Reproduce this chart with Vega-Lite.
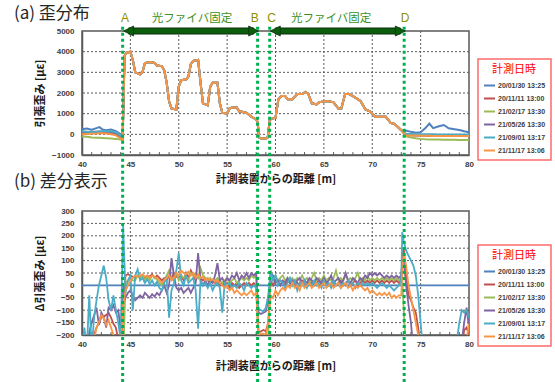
{
"$schema": "https://vega.github.io/schema/vega-lite/v6.json",
"background": "white",
"padding": {"left": 13, "top": 4, "right": 0, "bottom": 0},
"bounds": "flush",
"spacing": 56,
"resolve": {"legend": {"color": "independent"}},
"datasets": {
"names": [
{"k":"b","series":"20/01/30 13:25"},{"k":"r","series":"20/11/11 13:00"},{"k":"g","series":"21/02/17 13:30"},
{"k":"p","series":"21/05/26 13:30"},{"k":"a","series":"21/09/01 13:17"},{"k":"o","series":"21/11/17 13:06"}],
"gx": [{"g":45},{"g":50},{"g":55},{"g":60},{"g":65},{"g":70},{"g":75}],
"mt": [{"m":41},{"m":42},{"m":43},{"m":44},{"m":46},{"m":47},{"m":48},{"m":49},{"m":51},{"m":52},{"m":53},{"m":54},{"m":56},{"m":57},{"m":58},{"m":59},{"m":61},{"m":62},{"m":63},{"m":64},{"m":66},{"m":67},{"m":68},{"m":69},{"m":71},{"m":72},{"m":73},{"m":74},{"m":76},{"m":77},{"m":78},{"m":79}],
"gyt": [{"g":0},{"g":1000},{"g":2000},{"g":3000},{"g":4000}],
"gyb": [{"g":-150},{"g":-100},{"g":-50},{"g":0},{"g":50},{"g":100},{"g":150},{"g":200},{"g":250}],
"marks": [{"x":44.2},{"x":58.15},{"x":59.4},{"x":73.3}],
"labels": [{"x":44.45,"t":"A"},{"x":57.85,"t":"B"},{"x":59.6,"t":"C"},{"x":73.4,"t":"D"}],
"texts": [{"x":51.37,"t":"光ファイバ固定"},{"x":65.75,"t":"光ファイバ固定"}],
"shafts": [{"x1":44.8,"x2":57.76},{"x1":59.96,"x2":72.92}],
"heads": [{"x":44.3,"d":"L"},{"x":58.26,"d":"R"},{"x":59.46,"d":"L"},{"x":73.42,"d":"R"}],
"top": [
{"x":40,"b":250,"r":50,"g":-100,"p":100,"a":150,"o":0},
{"x":40.5,"b":280,"r":60,"g":-120,"p":110,"a":130,"o":20},
{"x":41,"b":220,"r":80,"g":-150,"p":120,"a":100,"o":30},
{"x":41.5,"b":300,"r":90,"g":-160,"p":130,"a":130,"o":40},
{"x":41.8,"b":350,"r":100,"g":-170,"p":130,"a":150,"o":50},
{"x":42.1,"b":240,"r":100,"g":-180,"p":130,"a":150,"o":50},
{"x":42.5,"b":200,"r":90,"g":-190,"p":120,"a":160,"o":40},
{"x":43,"b":230,"r":50,"g":-200,"p":100,"a":150,"o":0},
{"x":43.5,"b":150,"r":0,"g":-220,"p":60,"a":100,"o":-50},
{"x":44,"b":0,"r":-150,"g":-250,"p":-100,"a":-50,"o":-200},
{"x":44.2,"b":-150,"r":-250,"g":-300,"p":-200,"a":-200,"o":-280},
{"x":44.4,"b":3800,"r":3800,"g":3800,"p":3800,"a":3800,"o":3800},
{"x":44.6,"b":3950,"r":3950,"g":3950,"p":3950,"a":3950,"o":3950},
{"x":45,"b":4000,"r":4000,"g":4000,"p":4000,"a":4000,"o":4000},
{"x":45.25,"b":3600,"r":3600,"g":3600,"p":3600,"a":3600,"o":3600},
{"x":45.5,"b":3000,"r":3000,"g":3000,"p":3000,"a":3000,"o":3000},
{"x":46,"b":2900,"r":2900,"g":2900,"p":2900,"a":2900,"o":2900},
{"x":46.25,"b":3000,"r":3000,"g":3000,"p":3000,"a":3000,"o":3000},
{"x":46.5,"b":3450,"r":3450,"g":3450,"p":3450,"a":3450,"o":3450},
{"x":47,"b":3500,"r":3500,"g":3500,"p":3500,"a":3500,"o":3500},
{"x":47.5,"b":3450,"r":3450,"g":3450,"p":3450,"a":3450,"o":3450},
{"x":47.75,"b":3330,"r":3330,"g":3330,"p":3330,"a":3330,"o":3330},
{"x":48.25,"b":3300,"r":3300,"g":3300,"p":3300,"a":3300,"o":3300},
{"x":48.5,"b":3100,"r":3100,"g":3100,"p":3100,"a":3100,"o":3100},
{"x":48.75,"b":2500,"r":2500,"g":2500,"p":2500,"a":2500,"o":2500},
{"x":49,"b":1600,"r":1600,"g":1600,"p":1600,"a":1600,"o":1600},
{"x":49.25,"b":1250,"r":1250,"g":1250,"p":1250,"a":1250,"o":1250},
{"x":49.75,"b":1200,"r":1200,"g":1200,"p":1200,"a":1200,"o":1200},
{"x":50,"b":2300,"r":2300,"g":2300,"p":2300,"a":2300,"o":2300},
{"x":50.25,"b":2620,"r":2620,"g":2620,"p":2620,"a":2620,"o":2620},
{"x":50.75,"b":2650,"r":2650,"g":2650,"p":2650,"a":2650,"o":2650},
{"x":51,"b":2800,"r":2800,"g":2800,"p":2800,"a":2800,"o":2800},
{"x":51.25,"b":3400,"r":3400,"g":3400,"p":3400,"a":3400,"o":3400},
{"x":51.5,"b":3550,"r":3550,"g":3550,"p":3550,"a":3550,"o":3550},
{"x":52,"b":3600,"r":3600,"g":3600,"p":3600,"a":3600,"o":3600},
{"x":52.25,"b":2500,"r":2500,"g":2500,"p":2500,"a":2500,"o":2500},
{"x":52.5,"b":1500,"r":1500,"g":1500,"p":1500,"a":1500,"o":1500},
{"x":53,"b":1400,"r":1400,"g":1400,"p":1400,"a":1400,"o":1400},
{"x":53.25,"b":2300,"r":2300,"g":2300,"p":2300,"a":2300,"o":2300},
{"x":53.5,"b":2500,"r":2500,"g":2500,"p":2500,"a":2500,"o":2500},
{"x":54,"b":2500,"r":2500,"g":2500,"p":2500,"a":2500,"o":2500},
{"x":54.25,"b":1500,"r":1500,"g":1500,"p":1500,"a":1500,"o":1500},
{"x":54.5,"b":1050,"r":1050,"g":1050,"p":1050,"a":1050,"o":1050},
{"x":55,"b":1000,"r":1000,"g":1000,"p":1000,"a":1000,"o":1000},
{"x":55.25,"b":1250,"r":1250,"g":1250,"p":1250,"a":1250,"o":1250},
{"x":55.5,"b":1300,"r":1300,"g":1300,"p":1300,"a":1300,"o":1300},
{"x":56,"b":1300,"r":1300,"g":1300,"p":1300,"a":1300,"o":1300},
{"x":56.25,"b":1100,"r":1100,"g":1100,"p":1100,"a":1100,"o":1100},
{"x":56.5,"b":1100,"r":1100,"g":1100,"p":1100,"a":1100,"o":1100},
{"x":56.75,"b":1050,"r":1050,"g":1050,"p":1050,"a":1050,"o":1050},
{"x":57,"b":1050,"r":1050,"g":1050,"p":1050,"a":1050,"o":1050},
{"x":57.5,"b":850,"r":850,"g":850,"p":850,"a":850,"o":850},
{"x":58,"b":720,"r":720,"g":720,"p":720,"a":720,"o":720},
{"x":58.15,"b":600,"r":600,"g":600,"p":600,"a":600,"o":600},
{"x":58.3,"b":-150,"r":-150,"g":-150,"p":-150,"a":-150,"o":-150},
{"x":58.5,"b":-200,"r":-200,"g":-200,"p":-200,"a":-200,"o":-200},
{"x":59,"b":-200,"r":-200,"g":-200,"p":-200,"a":-200,"o":-200},
{"x":59.2,"b":-150,"r":-150,"g":-150,"p":-150,"a":-150,"o":-150},
{"x":59.4,"b":700,"r":700,"g":700,"p":700,"a":700,"o":700},
{"x":59.6,"b":750,"r":750,"g":750,"p":750,"a":750,"o":750},
{"x":60,"b":800,"r":800,"g":800,"p":800,"a":800,"o":800},
{"x":60.3,"b":1700,"r":1700,"g":1700,"p":1700,"a":1700,"o":1700},
{"x":60.6,"b":1850,"r":1850,"g":1850,"p":1850,"a":1850,"o":1850},
{"x":61,"b":1850,"r":1850,"g":1850,"p":1850,"a":1850,"o":1850},
{"x":61.25,"b":1700,"r":1700,"g":1700,"p":1700,"a":1700,"o":1700},
{"x":61.75,"b":1700,"r":1700,"g":1700,"p":1700,"a":1700,"o":1700},
{"x":62.25,"b":1950,"r":1950,"g":1950,"p":1950,"a":1950,"o":1950},
{"x":62.75,"b":1950,"r":1950,"g":1950,"p":1950,"a":1950,"o":1950},
{"x":63.1,"b":2050,"r":2050,"g":2050,"p":2050,"a":2050,"o":2050},
{"x":63.4,"b":1950,"r":1950,"g":1950,"p":1950,"a":1950,"o":1950},
{"x":63.75,"b":1500,"r":1500,"g":1500,"p":1500,"a":1500,"o":1500},
{"x":64.25,"b":1450,"r":1450,"g":1450,"p":1450,"a":1450,"o":1450},
{"x":64.5,"b":1550,"r":1550,"g":1550,"p":1550,"a":1550,"o":1550},
{"x":65,"b":1600,"r":1600,"g":1600,"p":1600,"a":1600,"o":1600},
{"x":65.5,"b":1600,"r":1600,"g":1600,"p":1600,"a":1600,"o":1600},
{"x":66,"b":1550,"r":1550,"g":1550,"p":1550,"a":1550,"o":1550},
{"x":66.5,"b":1250,"r":1250,"g":1250,"p":1250,"a":1250,"o":1250},
{"x":66.8,"b":1250,"r":1250,"g":1250,"p":1250,"a":1250,"o":1250},
{"x":67.2,"b":1950,"r":1950,"g":1950,"p":1950,"a":1950,"o":1950},
{"x":67.6,"b":1950,"r":1950,"g":1950,"p":1950,"a":1950,"o":1950},
{"x":68,"b":1850,"r":1850,"g":1850,"p":1850,"a":1850,"o":1850},
{"x":68.5,"b":1700,"r":1700,"g":1700,"p":1700,"a":1700,"o":1700},
{"x":68.8,"b":1600,"r":1600,"g":1600,"p":1600,"a":1600,"o":1600},
{"x":69.3,"b":1200,"r":1200,"g":1200,"p":1200,"a":1200,"o":1200},
{"x":69.8,"b":1100,"r":1100,"g":1100,"p":1100,"a":1100,"o":1100},
{"x":70.3,"b":850,"r":850,"g":850,"p":850,"a":850,"o":850},
{"x":70.7,"b":850,"r":850,"g":850,"p":850,"a":850,"o":850},
{"x":71.4,"b":850,"r":850,"g":850,"p":850,"a":850,"o":850},
{"x":71.9,"b":550,"r":550,"g":550,"p":550,"a":550,"o":550},
{"x":72.3,"b":500,"r":500,"g":500,"p":500,"a":500,"o":500},
{"x":72.6,"b":380,"r":380,"g":380,"p":380,"a":380,"o":380},
{"x":73,"b":200,"r":200,"g":200,"p":200,"a":200,"o":200},
{"x":73.25,"b":100,"r":60,"g":40,"p":70,"a":80,"o":60},
{"x":73.5,"b":180,"r":-40,"g":-100,"p":-20,"a":30,"o":-50},
{"x":74,"b":120,"r":-50,"g":-150,"p":-30,"a":20,"o":-60},
{"x":74.5,"b":80,"r":-60,"g":-190,"p":-40,"a":10,"o":-60},
{"x":75,"b":100,"r":-60,"g":-220,"p":-40,"a":10,"o":-70},
{"x":75.5,"b":300,"r":-70,"g":-240,"p":-50,"a":0,"o":-70},
{"x":75.9,"b":520,"r":-70,"g":-250,"p":-50,"a":0,"o":-70},
{"x":76.3,"b":300,"r":-70,"g":-250,"p":-50,"a":0,"o":-75},
{"x":76.8,"b":380,"r":-75,"g":-255,"p":-55,"a":-5,"o":-75},
{"x":77.4,"b":450,"r":-75,"g":-260,"p":-55,"a":-5,"o":-75},
{"x":77.9,"b":290,"r":-75,"g":-260,"p":-55,"a":-10,"o":-80},
{"x":78.5,"b":250,"r":-80,"g":-265,"p":-60,"a":-10,"o":-80},
{"x":79,"b":210,"r":-80,"g":-270,"p":-60,"a":-10,"o":-80},
{"x":79.5,"b":150,"r":-80,"g":-275,"p":-60,"a":-10,"o":-80},
{"x":80,"b":100,"r":-80,"g":-280,"p":-60,"a":-10,"o":-80}
],
"diff": [
{"x":40,"b":0,"r":-260,"g":-400,"p":-260,"a":-260,"o":-260},
{"x":40.25,"b":0,"r":-260,"g":-400,"p":-260,"a":-170,"o":-260},
{"x":40.5,"b":0,"r":-260,"g":-400,"p":-260,"a":-260,"o":-260},
{"x":40.75,"b":0,"r":-260,"g":-400,"p":-190,"a":-40,"o":-260},
{"x":41,"b":0,"r":-260,"g":-400,"p":-150,"a":-260,"o":-260},
{"x":41.25,"b":0,"r":-200,"g":-400,"p":-120,"a":-130,"o":-220},
{"x":41.5,"b":0,"r":-170,"g":-400,"p":-90,"a":-60,"o":-170},
{"x":41.75,"b":0,"r":-150,"g":-400,"p":-160,"a":0,"o":-150},
{"x":42,"b":0,"r":-130,"g":-400,"p":-110,"a":40,"o":-120},
{"x":42.25,"b":0,"r":-125,"g":-400,"p":-130,"a":80,"o":-130},
{"x":42.5,"b":0,"r":-120,"g":-400,"p":-170,"a":30,"o":-160},
{"x":42.75,"b":0,"r":-110,"g":-400,"p":-90,"a":-60,"o":-140},
{"x":43,"b":0,"r":-130,"g":-400,"p":-100,"a":-100,"o":-170},
{"x":43.25,"b":0,"r":-155,"g":-400,"p":-80,"a":-40,"o":-200},
{"x":43.5,"b":0,"r":-170,"g":-400,"p":-110,"a":-100,"o":-230},
{"x":43.75,"b":0,"r":-220,"g":-400,"p":-100,"a":-150,"o":-260},
{"x":44,"b":0,"r":-260,"g":-400,"p":-180,"a":-220,"o":-260},
{"x":44.25,"b":0,"r":-120,"g":-300,"p":0,"a":240,"o":-80},
{"x":44.5,"b":0,"r":40,"g":10,"p":-50,"a":-30,"o":-20},
{"x":44.75,"b":0,"r":45,"g":20,"p":-30,"a":20,"o":0},
{"x":45,"b":0,"r":40,"g":30,"p":-20,"a":40,"o":20},
{"x":45.25,"b":0,"r":35,"g":20,"p":-40,"a":-100,"o":30},
{"x":45.5,"b":0,"r":30,"g":20,"p":-60,"a":40,"o":40},
{"x":45.75,"b":0,"r":40,"g":40,"p":-50,"a":65,"o":35},
{"x":46,"b":0,"r":35,"g":30,"p":-40,"a":20,"o":40},
{"x":46.25,"b":0,"r":40,"g":40,"p":-50,"a":30,"o":45},
{"x":46.5,"b":0,"r":30,"g":20,"p":-30,"a":10,"o":35},
{"x":46.75,"b":0,"r":40,"g":35,"p":-40,"a":25,"o":40},
{"x":47,"b":0,"r":35,"g":20,"p":-50,"a":5,"o":30},
{"x":47.25,"b":0,"r":45,"g":40,"p":-35,"a":20,"o":40},
{"x":47.5,"b":0,"r":30,"g":30,"p":-45,"a":0,"o":35},
{"x":47.75,"b":0,"r":40,"g":25,"p":-30,"a":15,"o":30},
{"x":48,"b":0,"r":30,"g":10,"p":-40,"a":-10,"o":20},
{"x":48.25,"b":0,"r":20,"g":0,"p":-20,"a":-20,"o":10},
{"x":48.5,"b":0,"r":30,"g":20,"p":0,"a":10,"o":20},
{"x":48.75,"b":0,"r":20,"g":40,"p":-30,"a":30,"o":30},
{"x":49,"b":0,"r":40,"g":60,"p":0,"a":-130,"o":40},
{"x":49.25,"b":0,"r":30,"g":30,"p":110,"a":-20,"o":20},
{"x":49.5,"b":0,"r":50,"g":20,"p":40,"a":10,"o":30},
{"x":49.75,"b":0,"r":35,"g":50,"p":-10,"a":60,"o":50},
{"x":50,"b":0,"r":30,"g":20,"p":-20,"a":130,"o":40},
{"x":50.25,"b":0,"r":40,"g":40,"p":-10,"a":20,"o":60},
{"x":50.5,"b":0,"r":20,"g":30,"p":-30,"a":0,"o":50},
{"x":50.75,"b":0,"r":50,"g":40,"p":-20,"a":40,"o":45},
{"x":51,"b":0,"r":30,"g":20,"p":-10,"a":10,"o":55},
{"x":51.25,"b":0,"r":60,"g":50,"p":-30,"a":20,"o":40},
{"x":51.5,"b":0,"r":40,"g":40,"p":-10,"a":30,"o":50},
{"x":51.75,"b":0,"r":20,"g":50,"p":10,"a":-20,"o":30},
{"x":52,"b":0,"r":40,"g":30,"p":130,"a":-175,"o":45},
{"x":52.25,"b":0,"r":30,"g":70,"p":20,"a":20,"o":30},
{"x":52.5,"b":0,"r":20,"g":40,"p":0,"a":0,"o":35},
{"x":52.75,"b":0,"r":30,"g":30,"p":20,"a":10,"o":20},
{"x":53,"b":0,"r":20,"g":20,"p":0,"a":-10,"o":30},
{"x":53.25,"b":0,"r":10,"g":30,"p":20,"a":10,"o":20},
{"x":53.5,"b":0,"r":20,"g":10,"p":10,"a":-20,"o":25},
{"x":53.75,"b":0,"r":10,"g":20,"p":40,"a":0,"o":15},
{"x":54,"b":0,"r":20,"g":30,"p":90,"a":10,"o":20},
{"x":54.25,"b":0,"r":0,"g":20,"p":20,"a":-10,"o":10},
{"x":54.5,"b":0,"r":10,"g":10,"p":30,"a":-110,"o":0},
{"x":54.75,"b":0,"r":0,"g":20,"p":10,"a":10,"o":-10},
{"x":55,"b":0,"r":10,"g":30,"p":30,"a":0,"o":0},
{"x":55.25,"b":0,"r":-10,"g":10,"p":20,"a":10,"o":-20},
{"x":55.5,"b":0,"r":10,"g":20,"p":40,"a":-10,"o":-10},
{"x":55.75,"b":0,"r":0,"g":30,"p":30,"a":0,"o":-30},
{"x":56,"b":0,"r":10,"g":10,"p":50,"a":-10,"o":-20},
{"x":56.25,"b":0,"r":-10,"g":20,"p":20,"a":10,"o":-30},
{"x":56.5,"b":0,"r":0,"g":30,"p":40,"a":0,"o":-40},
{"x":56.75,"b":0,"r":10,"g":20,"p":30,"a":-20,"o":-30},
{"x":57,"b":0,"r":0,"g":30,"p":50,"a":10,"o":-40},
{"x":57.25,"b":0,"r":10,"g":20,"p":30,"a":0,"o":-30},
{"x":57.5,"b":0,"r":0,"g":40,"p":50,"a":-10,"o":-20},
{"x":57.75,"b":0,"r":10,"g":30,"p":40,"a":0,"o":-40},
{"x":58,"b":0,"r":0,"g":40,"p":50,"a":-10,"o":-30},
{"x":58.25,"b":0,"r":-190,"g":-260,"p":-110,"a":-95,"o":-200},
{"x":58.5,"b":0,"r":-185,"g":-260,"p":-115,"a":-100,"o":-195},
{"x":58.75,"b":0,"r":-180,"g":-260,"p":-110,"a":-105,"o":-195},
{"x":59,"b":0,"r":-185,"g":-260,"p":-105,"a":-90,"o":-200},
{"x":59.25,"b":0,"r":-150,"g":-200,"p":-60,"a":-40,"o":-150},
{"x":59.5,"b":0,"r":20,"g":30,"p":50,"a":60,"o":-40},
{"x":59.75,"b":0,"r":0,"g":20,"p":40,"a":20,"o":-50},
{"x":60,"b":0,"r":20,"g":40,"p":10,"a":40,"o":-20},
{"x":60.25,"b":0,"r":10,"g":20,"p":20,"a":0,"o":-40},
{"x":60.5,"b":0,"r":20,"g":30,"p":0,"a":20,"o":-20},
{"x":60.75,"b":0,"r":10,"g":40,"p":20,"a":10,"o":-10},
{"x":61,"b":0,"r":0,"g":20,"p":10,"a":-10,"o":-20},
{"x":61.25,"b":0,"r":20,"g":30,"p":30,"a":10,"o":0},
{"x":61.5,"b":0,"r":10,"g":20,"p":10,"a":30,"o":-10},
{"x":61.75,"b":0,"r":0,"g":30,"p":20,"a":0,"o":10},
{"x":62,"b":0,"r":20,"g":10,"p":0,"a":20,"o":-10},
{"x":62.25,"b":0,"r":10,"g":30,"p":20,"a":-20,"o":0},
{"x":62.5,"b":0,"r":0,"g":20,"p":30,"a":10,"o":-20},
{"x":62.75,"b":0,"r":20,"g":40,"p":10,"a":0,"o":10},
{"x":63,"b":0,"r":10,"g":20,"p":20,"a":20,"o":-10},
{"x":63.25,"b":0,"r":0,"g":30,"p":10,"a":-10,"o":0},
{"x":63.5,"b":0,"r":20,"g":10,"p":30,"a":10,"o":10},
{"x":63.75,"b":0,"r":10,"g":30,"p":20,"a":0,"o":-10},
{"x":64,"b":0,"r":0,"g":50,"p":10,"a":20,"o":0},
{"x":64.25,"b":0,"r":10,"g":20,"p":30,"a":0,"o":10},
{"x":64.5,"b":0,"r":20,"g":30,"p":20,"a":10,"o":-10},
{"x":64.75,"b":0,"r":0,"g":20,"p":10,"a":-10,"o":0},
{"x":65,"b":0,"r":10,"g":40,"p":30,"a":20,"o":10},
{"x":65.25,"b":0,"r":20,"g":20,"p":10,"a":0,"o":-10},
{"x":65.5,"b":0,"r":0,"g":30,"p":20,"a":10,"o":0},
{"x":65.75,"b":0,"r":10,"g":20,"p":40,"a":-10,"o":10},
{"x":66,"b":0,"r":20,"g":30,"p":10,"a":20,"o":-10},
{"x":66.25,"b":0,"r":0,"g":60,"p":20,"a":0,"o":0},
{"x":66.5,"b":0,"r":10,"g":20,"p":30,"a":10,"o":10},
{"x":66.75,"b":0,"r":20,"g":30,"p":10,"a":-10,"o":-10},
{"x":67,"b":0,"r":0,"g":20,"p":20,"a":10,"o":0},
{"x":67.25,"b":0,"r":10,"g":40,"p":50,"a":0,"o":10},
{"x":67.5,"b":0,"r":20,"g":20,"p":20,"a":20,"o":-10},
{"x":67.75,"b":0,"r":0,"g":30,"p":10,"a":0,"o":0},
{"x":68,"b":0,"r":10,"g":20,"p":30,"a":10,"o":-20},
{"x":68.25,"b":0,"r":20,"g":30,"p":20,"a":-10,"o":0},
{"x":68.5,"b":0,"r":0,"g":50,"p":10,"a":10,"o":-10},
{"x":68.75,"b":0,"r":10,"g":20,"p":30,"a":0,"o":0},
{"x":69,"b":0,"r":20,"g":30,"p":20,"a":10,"o":-10},
{"x":69.25,"b":0,"r":10,"g":20,"p":40,"a":0,"o":-20},
{"x":69.5,"b":0,"r":20,"g":40,"p":30,"a":10,"o":-10},
{"x":69.75,"b":0,"r":10,"g":20,"p":50,"a":0,"o":-30},
{"x":70,"b":0,"r":20,"g":30,"p":40,"a":10,"o":-20},
{"x":70.25,"b":0,"r":10,"g":20,"p":50,"a":0,"o":-30},
{"x":70.5,"b":0,"r":20,"g":30,"p":40,"a":-10,"o":-40},
{"x":70.75,"b":0,"r":10,"g":20,"p":50,"a":0,"o":-30},
{"x":71,"b":0,"r":20,"g":30,"p":40,"a":10,"o":-40},
{"x":71.25,"b":0,"r":10,"g":20,"p":30,"a":0,"o":-30},
{"x":71.5,"b":0,"r":20,"g":30,"p":40,"a":-10,"o":-40},
{"x":71.75,"b":0,"r":10,"g":20,"p":30,"a":0,"o":-30},
{"x":72,"b":0,"r":20,"g":30,"p":40,"a":-10,"o":-50},
{"x":72.25,"b":0,"r":10,"g":20,"p":30,"a":-20,"o":-40},
{"x":72.5,"b":0,"r":20,"g":30,"p":40,"a":-10,"o":-50},
{"x":72.75,"b":0,"r":10,"g":20,"p":30,"a":0,"o":-40},
{"x":73,"b":0,"r":30,"g":20,"p":40,"a":20,"o":-40},
{"x":73.1,"b":0,"r":100,"g":30,"p":90,"a":215,"o":50},
{"x":73.25,"b":0,"r":150,"g":-100,"p":100,"a":180,"o":130},
{"x":73.5,"b":0,"r":40,"g":-260,"p":0,"a":140,"o":80},
{"x":73.75,"b":0,"r":-40,"g":-300,"p":-80,"a":120,"o":0},
{"x":74,"b":0,"r":-60,"g":-300,"p":-150,"a":100,"o":-50},
{"x":74.25,"b":0,"r":-90,"g":-300,"p":-260,"a":80,"o":-100},
{"x":74.5,"b":0,"r":-110,"g":-300,"p":-300,"a":40,"o":-150},
{"x":74.75,"b":0,"r":-170,"g":-300,"p":-300,"a":-40,"o":-200},
{"x":75,"b":0,"r":-260,"g":-300,"p":-300,"a":-150,"o":-260},
{"x":75.25,"b":0,"r":-300,"g":-300,"p":-300,"a":-260,"o":-300},
{"x":75.5,"b":0,"r":-300,"g":-300,"p":-300,"a":-300,"o":-300},
{"x":76,"b":0,"r":-300,"g":-300,"p":-300,"a":-300,"o":-300},
{"x":77,"b":0,"r":-300,"g":-300,"p":-300,"a":-300,"o":-300},
{"x":78,"b":0,"r":-300,"g":-300,"p":-300,"a":-300,"o":-300},
{"x":78.5,"b":0,"r":-300,"g":-300,"p":-300,"a":-300,"o":-300},
{"x":78.75,"b":0,"r":-300,"g":-300,"p":-300,"a":-220,"o":-300},
{"x":79,"b":0,"r":-300,"g":-300,"p":-260,"a":-150,"o":-300},
{"x":79.25,"b":0,"r":-260,"g":-300,"p":-230,"a":-100,"o":-300},
{"x":79.5,"b":0,"r":-180,"g":-300,"p":-150,"a":-110,"o":-260},
{"x":79.75,"b":0,"r":-170,"g":-300,"p":-90,"a":-100,"o":-220},
{"x":80,"b":0,"r":-200,"g":-300,"p":-170,"a":-130,"o":-155}
]
},
"vconcat": [
{
"width": 387, "height": 124,
"title": {"text": "(a) 歪分布", "anchor": "start", "frame": "group", "dx": -68, "dy": 24, "offset": 0, "baseline": "alphabetic", "font": "Noto Sans CJK JP", "fontSize": 17, "fontWeight": "normal", "color": "#262626"},
"layer": [
{
"data": {"name": "gx"},
"mark": {"type": "rule", "color": "#595959", "strokeWidth": 1, "strokeDash": [2, 2]},
"encoding": {"x": {"field": "g", "type": "quantitative", "scale": {"domain": [40, 80], "nice": false, "zero": false}, "axis": {"values": [40,45,50,55,60,65,70,75,80], "grid": false, "labelOverlap": false, "title": "計測装置からの距離 [m]"}}}
},
{
"data": {"name": "gyt"},
"mark": {"type": "rule", "color": "#595959", "strokeWidth": 1, "strokeDash": [2, 2]},
"encoding": {"y": {"field": "g", "type": "quantitative", "scale": {"domain": [-1000, 5000], "nice": false, "zero": false}, "axis": {"values": [-1000,0,1000,2000,3000,4000,5000], "grid": false, "labelOverlap": false, "format": "d", "title": "引張歪み [με]", "titlePadding": 6}}}
},
{
"data": {"name": "mt"},
"mark": {"type": "rule", "color": "#595959", "strokeWidth": 1},
"encoding": {"x": {"field": "m", "type": "quantitative", "axis": {"values": [40,45,50,55,60,65,70,75,80], "grid": false, "labelOverlap": false, "title": "計測装置からの距離 [m]"}}, "y": {"datum": -1000, "type": "quantitative", "axis": {"values": [-1000,0,1000,2000,3000,4000,5000], "grid": false, "labelOverlap": false, "format": "d", "title": "引張歪み [με]", "titlePadding": 6}}, "y2": {"datum": -860}}
},
{
"data": {"name": "top"},
"transform": [
{"fold": ["b","r","g","p","a","o"], "as": ["k","v"]},
{"lookup": "k", "from": {"data": {"name": "names"}, "key": "k", "fields": ["series"]}}
],
"mark": {"type": "line", "strokeWidth": 2, "clip": true},
"encoding": {
"x": {"field": "x", "type": "quantitative", "axis": {"values": [40,45,50,55,60,65,70,75,80], "grid": false, "labelOverlap": false, "title": "計測装置からの距離 [m]"}},
"y": {"field": "v", "type": "quantitative", "axis": {"values": [-1000,0,1000,2000,3000,4000,5000], "grid": false, "labelOverlap": false, "format": "d", "title": "引張歪み [με]", "titlePadding": 6}},
"color": {"field": "series", "type": "nominal", "scale": {"domain": ["20/01/30 13:25","20/11/11 13:00","21/02/17 13:30","21/05/26 13:30","21/09/01 13:17","21/11/17 13:06"], "range": ["#4F81BD","#C0504D","#9BBB59","#8064A2","#4BACC6","#F79646"]}, "legend": {"title": "計測日時", "orient": "none", "legendX": 396, "legendY": 28}}
}
},
{
"data": {"name": "shafts"},
"mark": {"type": "rule", "strokeWidth": 7, "color": "#0f2f0f", "strokeCap": "butt"},
"encoding": {"x": {"field": "x1", "type": "quantitative", "axis": {"values": [40,45,50,55,60,65,70,75,80], "grid": false, "labelOverlap": false, "title": "計測装置からの距離 [m]"}}, "x2": {"field": "x2"}, "y": {"datum": 5000, "type": "quantitative", "axis": {"values": [-1000,0,1000,2000,3000,4000,5000], "grid": false, "labelOverlap": false, "format": "d", "title": "引張歪み [με]", "titlePadding": 6}}}
},
{
"data": {"name": "shafts"},
"mark": {"type": "rule", "strokeWidth": 5, "color": "#0b5e0b", "strokeCap": "butt"},
"encoding": {"x": {"field": "x1", "type": "quantitative", "axis": {"values": [40,45,50,55,60,65,70,75,80], "grid": false, "labelOverlap": false, "title": "計測装置からの距離 [m]"}}, "x2": {"field": "x2"}, "y": {"datum": 5000, "type": "quantitative", "axis": {"values": [-1000,0,1000,2000,3000,4000,5000], "grid": false, "labelOverlap": false, "format": "d", "title": "引張歪み [με]", "titlePadding": 6}}}
},
{
"data": {"name": "heads"},
"mark": {"type": "point", "filled": true, "size": 100, "fill": "#0b5e0b", "stroke": "#0f2f0f", "strokeWidth": 0.8, "opacity": 1},
"encoding": {"x": {"field": "x", "type": "quantitative", "axis": {"values": [40,45,50,55,60,65,70,75,80], "grid": false, "labelOverlap": false, "title": "計測装置からの距離 [m]"}}, "y": {"datum": 5000, "type": "quantitative", "axis": {"values": [-1000,0,1000,2000,3000,4000,5000], "grid": false, "labelOverlap": false, "format": "d", "title": "引張歪み [με]", "titlePadding": 6}},
"shape": {"field": "d", "type": "nominal", "scale": {"domain": ["L","R"], "range": ["M0,0L2,-1L2,1Z", "M0,0L-2,-1L-2,1Z"]}, "legend": null}}
},
{
"data": {"name": "marks"},
"mark": {"type": "rule", "color": "#00b050", "strokeWidth": 3, "strokeDash": [3, 3]},
"encoding": {"x": {"field": "x", "type": "quantitative", "axis": {"values": [40,45,50,55,60,65,70,75,80], "grid": false, "labelOverlap": false, "title": "計測装置からの距離 [m]"}}, "y": {"datum": 5210, "type": "quantitative", "axis": {"values": [-1000,0,1000,2000,3000,4000,5000], "grid": false, "labelOverlap": false, "format": "d", "title": "引張歪み [με]", "titlePadding": 6}}, "y2": {"datum": -3800}}
},
{
"data": {"name": "labels"},
"mark": {"type": "text", "font": "Liberation Sans", "fontSize": 12, "color": "#8f8f00", "baseline": "middle", "align": "center"},
"encoding": {"x": {"field": "x", "type": "quantitative", "axis": {"values": [40,45,50,55,60,65,70,75,80], "grid": false, "labelOverlap": false, "title": "計測装置からの距離 [m]"}}, "y": {"datum": 5614, "type": "quantitative", "axis": {"values": [-1000,0,1000,2000,3000,4000,5000], "grid": false, "labelOverlap": false, "format": "d", "title": "引張歪み [με]", "titlePadding": 6}}, "text": {"field": "t"}}
},
{
"data": {"name": "texts"},
"mark": {"type": "text", "font": "Noto Sans CJK JP", "fontSize": 11.5, "color": "#3a8f22", "baseline": "middle", "align": "center"},
"encoding": {"x": {"field": "x", "type": "quantitative", "axis": {"values": [40,45,50,55,60,65,70,75,80], "grid": false, "labelOverlap": false, "title": "計測装置からの距離 [m]"}}, "y": {"datum": 5580, "type": "quantitative", "axis": {"values": [-1000,0,1000,2000,3000,4000,5000], "grid": false, "labelOverlap": false, "format": "d", "title": "引張歪み [με]", "titlePadding": 6}}, "text": {"field": "t"}}
}
]
},
{
"width": 387, "height": 124,
"title": {"text": "(b) 差分表示", "anchor": "start", "frame": "group", "dx": -68, "dy": 18, "offset": 21, "baseline": "alphabetic", "font": "Noto Sans CJK JP", "fontSize": 17, "fontWeight": "normal", "color": "#262626"},
"layer": [
{
"data": {"name": "gx"},
"mark": {"type": "rule", "color": "#595959", "strokeWidth": 1, "strokeDash": [2, 2]},
"encoding": {"x": {"field": "g", "type": "quantitative", "scale": {"domain": [40, 80], "nice": false, "zero": false}, "axis": {"values": [40,45,50,55,60,65,70,75,80], "grid": false, "labelOverlap": false, "titlePadding": 12, "title": "計測装置からの距離 [m]"}}}
},
{
"data": {"name": "gyb"},
"mark": {"type": "rule", "color": "#595959", "strokeWidth": 1, "strokeDash": [2, 2]},
"encoding": {"y": {"field": "g", "type": "quantitative", "scale": {"domain": [-200, 300], "nice": false, "zero": false}, "axis": {"values": [-200,-150,-100,-50,0,50,100,150,200,250,300], "grid": false, "labelOverlap": false, "format": "d", "title": "Δ引張歪み [με]", "titlePadding": 10}}}
},
{
"data": {"name": "mt"},
"mark": {"type": "rule", "color": "#595959", "strokeWidth": 1},
"encoding": {"x": {"field": "m", "type": "quantitative", "axis": {"values": [40,45,50,55,60,65,70,75,80], "grid": false, "labelOverlap": false, "titlePadding": 12, "title": "計測装置からの距離 [m]"}}, "y": {"datum": -200, "type": "quantitative", "axis": {"values": [-200,-150,-100,-50,0,50,100,150,200,250,300], "grid": false, "labelOverlap": false, "format": "d", "title": "Δ引張歪み [με]", "titlePadding": 10}}, "y2": {"datum": -188}}
},
{
"data": {"name": "diff"},
"transform": [
{"fold": ["b","r","g","p","a","o"], "as": ["k","v"]},
{"lookup": "k", "from": {"data": {"name": "names"}, "key": "k", "fields": ["series"]}}
],
"mark": {"type": "line", "strokeWidth": 1.8, "clip": true},
"encoding": {
"x": {"field": "x", "type": "quantitative", "axis": {"values": [40,45,50,55,60,65,70,75,80], "grid": false, "labelOverlap": false, "titlePadding": 12, "title": "計測装置からの距離 [m]"}},
"y": {"field": "v", "type": "quantitative", "axis": {"values": [-200,-150,-100,-50,0,50,100,150,200,250,300], "grid": false, "labelOverlap": false, "format": "d", "title": "Δ引張歪み [με]", "titlePadding": 10}},
"color": {"field": "series", "type": "nominal", "scale": {"domain": ["20/01/30 13:25","20/11/11 13:00","21/02/17 13:30","21/05/26 13:30","21/09/01 13:17","21/11/17 13:06"], "range": ["#4F81BD","#C0504D","#9BBB59","#8064A2","#4BACC6","#F79646"]}, "legend": {"title": "計測日時", "orient": "none", "legendX": 396, "legendY": 34}}
}
},
{
"data": {"name": "marks"},
"mark": {"type": "rule", "color": "#00b050", "strokeWidth": 3, "strokeDash": [3, 3]},
"encoding": {"x": {"field": "x", "type": "quantitative", "axis": {"values": [40,45,50,55,60,65,70,75,80], "grid": false, "labelOverlap": false, "titlePadding": 12, "title": "計測装置からの距離 [m]"}}, "y": {"datum": 300, "type": "quantitative", "axis": {"values": [-200,-150,-100,-50,0,50,100,150,200,250,300], "grid": false, "labelOverlap": false, "format": "d", "title": "Δ引張歪み [με]", "titlePadding": 10}}, "y2": {"datum": -400}}
}
]
}
],
"config": {
"font": "Liberation Sans",
"view": {"stroke": "#595959", "strokeWidth": 1.5},
"axis": {"grid": false, "ticks": false, "labelOverlap": false, "domainColor": "#595959", "domainWidth": 1.5, "labelFont": "Liberation Sans", "labelFontSize": 8, "labelFontWeight": "bold", "labelColor": "#404040", "titleFont": "Noto Sans CJK JP", "titleFontSize": 11, "titleFontWeight": "bold", "titleColor": "#1a1a1a"},
"axisX": {"labelPadding": 5, "titlePadding": 5.5, "labelFlush": false},
"axisY": {"labelPadding": 8},
"legend": {"strokeColor": "#ff6b6b", "strokeWidth": 1.5, "fillColor": "white", "padding": 5, "titleColor": "#ff0000", "titleFont": "Noto Sans CJK JP", "titleFontSize": 11, "titleFontWeight": "normal", "titleAnchor": "middle", "titlePadding": 4, "labelFont": "Liberation Sans", "labelFontSize": 7, "labelFontWeight": "bold", "labelColor": "#404040", "symbolType": "stroke", "symbolSize": 121, "symbolStrokeWidth": 2, "rowPadding": 2, "labelOffset": 2}
}
}
